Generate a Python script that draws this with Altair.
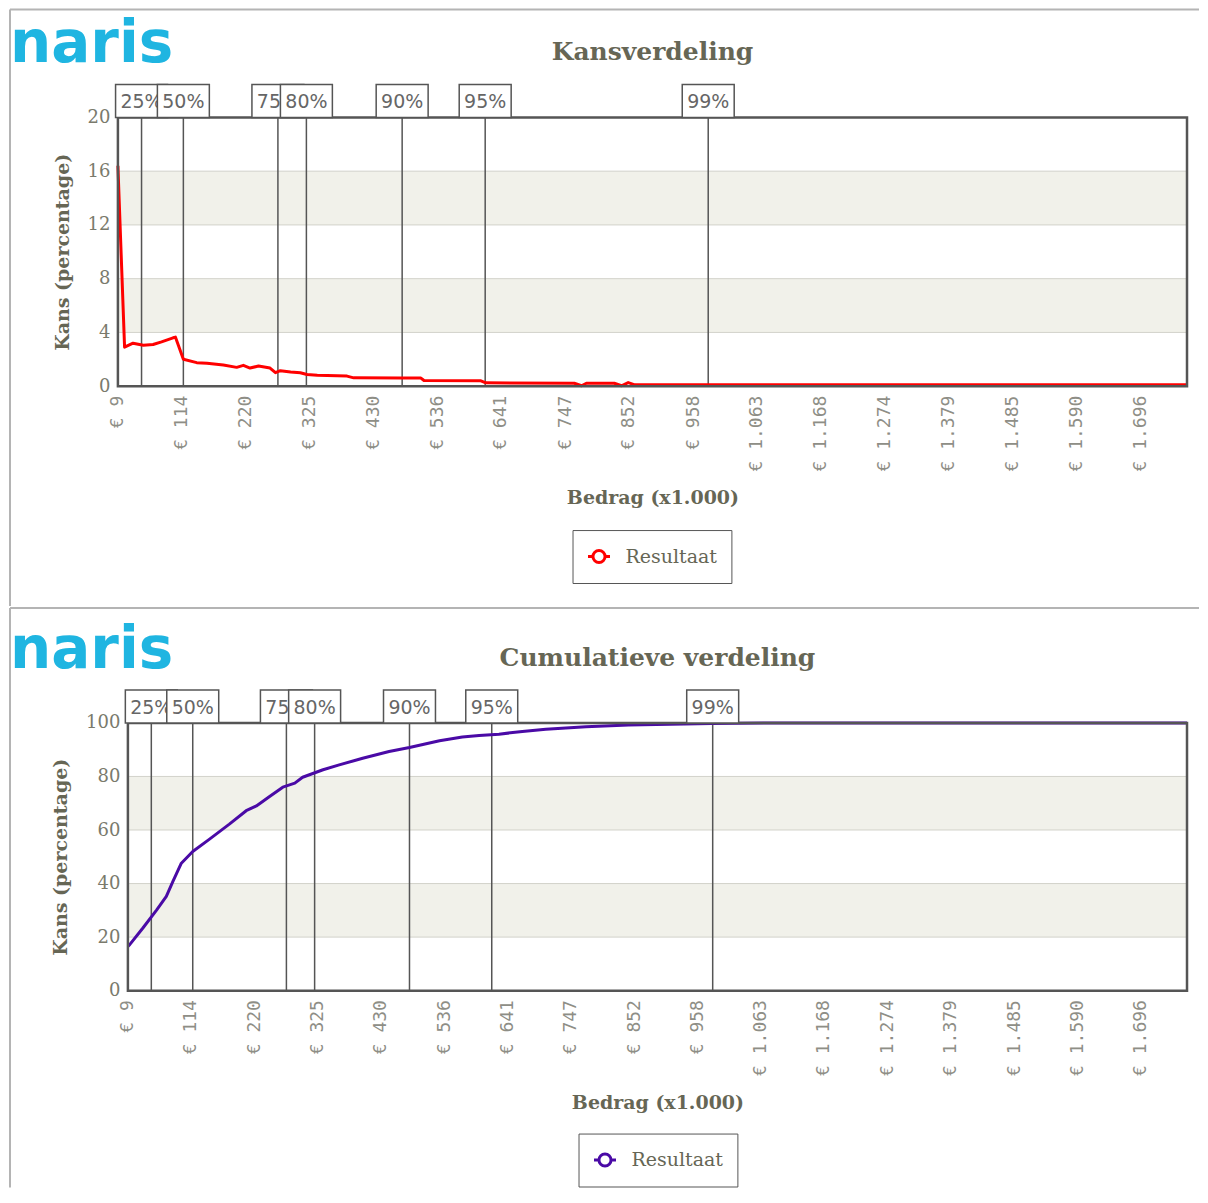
import altair as alt
import pandas as pd

# ---------------- data ----------------
x_pdf = [9, 20, 34, 51, 67, 81, 100, 104, 117, 139, 156, 183, 205, 216, 227, 241, 260, 269, 277,
         294, 310, 321, 338, 387, 398, 476, 509, 514, 608, 616, 762, 774, 782, 828, 840, 851, 862, 1773]
y_pdf = [16.4, 2.9, 3.2, 3.05, 3.1, 3.3, 3.6, 3.65, 2.0, 1.75, 1.7, 1.57, 1.4, 1.55, 1.35, 1.5, 1.35, 1.0, 1.15,
         1.05, 1.0, 0.87, 0.82, 0.75, 0.62, 0.6, 0.6, 0.42, 0.4, 0.25, 0.22, 0.03, 0.22, 0.22, 0.03, 0.27, 0.1, 0.1]

x_cdf = [9, 12, 34, 57, 73, 84, 98, 117, 145, 178, 206, 223, 245, 267, 287, 300, 334, 361, 400, 444,
         478, 528, 566, 594, 627, 666, 705, 772, 843, 981, 1100, 1773]
y_cdf = [16.5, 17.2, 23.4, 30.2, 35.2, 40.8, 47.6, 52, 56.6, 62.2, 67.2, 69, 72.5, 76, 77.5, 79.7, 82.5, 84.3,
         86.8, 89.3, 90.8, 93.3, 94.7, 95.3, 95.8, 96.8, 97.6, 98.6, 99.25, 99.8, 100, 100]

pct_labels = ["25%", "50%", "75%", "80%", "90%", "95%", "99%"]
pct_values = [48, 117, 273, 320, 478, 615, 983]

x_ticks = [9, 114, 220, 325, 430, 536, 641, 747, 852, 958, 1063, 1168, 1274, 1379, 1485, 1590, 1696]
x_domain = [9, 1773]

pdf_ticks = [0, 4, 8, 12, 16, 20]
cdf_ticks = [0, 20, 40, 60, 80, 100]
pdf_band_lo, pdf_band_hi = [4, 12], [8, 16]
cdf_band_lo, cdf_band_hi = [20, 60], [40, 80]

series_name = "Resultaat"
titles = ["Kansverdeling", "Cumulatieve verdeling"]
logo_text = "naris"
y_title = "Kans (percentage)"
x_title = "Bedrag (x1.000)"

# ---------------- style ----------------
TEXT = "#666655"
LABEL = "#7a7a6c"
XLABEL = "#8e8e86"
DARK = "#555555"
BAND = "#f1f1ea"
GRID = "#d2d2ca"
BORDER = "#b4b4b4"
LOGO = "#1fb5e1"
SYM = "M-1,0L-0.55,0M0.55,0L1,0M-0.55,0A0.55,0.55,0,1,1,0.55,0A0.55,0.55,0,1,1,-0.55,0Z"

X_AXIS = alt.Axis(
    values=x_ticks,
    labelExpr="'€ ' + replace(format(datum.value, ','), ',', '.')",
    labelAngle=270, labelFont="DejaVu Sans Mono", labelFontSize=18, labelColor=XLABEL,
    labelPadding=9, labelOverlap=False, labelFlush=False, labelBound=False,
    domain=False, ticks=False, grid=False,
    title=x_title, titleFont="DejaVu Serif", titleFontWeight="bold", titleFontSize=19,
    titleColor=TEXT, titlePadding=18)


def y_axis(yticks, offset):
    return alt.Axis(
        values=yticks, labelFont="DejaVu Serif", labelFontSize=18, labelColor=LABEL,
        labelPadding=8, domain=False, ticks=False, grid=False, offset=offset,
        title=y_title, titleFont="DejaVu Serif", titleFontWeight="bold", titleFontSize=19,
        titleColor=TEXT, titlePadding=15)


def panel(xs, ys, color, yticks, ymax, band_lo, band_hi, title, width, height,
          x_start, logo_dx, legend_xy, border):
    xsc = alt.Scale(domain=x_domain, nice=False, zero=False, range=[x_start, width])
    ysc = alt.Scale(domain=[0, ymax], nice=False, zero=True)
    yax = y_axis(yticks, -x_start)
    one = pd.DataFrame({"t": [0]})
    n_b = len(band_lo)

    band_df = pd.DataFrame({"lo": band_lo, "hi": band_hi,
                            "x0": [x_domain[0]] * n_b, "x1": [x_domain[1]] * n_b})
    bands = alt.Chart(band_df).mark_rect(color=BAND).encode(
        x=alt.X("x0:Q", scale=xsc, axis=X_AXIS), x2="x1:Q",
        y=alt.Y("lo:Q", scale=ysc, axis=yax), y2="hi:Q")
    grid_df = pd.DataFrame({"g": yticks, "x0": [x_domain[0]] * len(yticks),
                            "x1": [x_domain[1]] * len(yticks)})
    grid = alt.Chart(grid_df).mark_rule(color=GRID, strokeWidth=1).encode(
        x=alt.X("x0:Q", scale=xsc, axis=X_AXIS), x2="x1:Q",
        y=alt.Y("g:Q", scale=ysc, axis=yax))
    pct_df = pd.DataFrame({"p": pct_labels, "v": pct_values})
    rules = alt.Chart(pct_df).mark_rule(color=DARK, strokeWidth=1.5).encode(
        x=alt.X("v:Q", scale=xsc, axis=X_AXIS))

    line_df = pd.DataFrame({"x": xs, "y": ys, "s": [series_name] * len(xs)})
    line = alt.Chart(line_df).mark_line(strokeWidth=3, strokeJoin="round").encode(
        x=alt.X("x:Q", scale=xsc, axis=X_AXIS),
        y=alt.Y("y:Q", scale=ysc, axis=yax),
        color=alt.Color("s:N", scale=alt.Scale(domain=[series_name], range=[color]),
                        legend=alt.Legend(
                            title=None, orient="none", legendX=legend_xy[0], legendY=legend_xy[1],
                            direction="horizontal", strokeColor=DARK, fillColor="white", padding=14,
                            symbolType=SYM, symbolSize=484, symbolStrokeWidth=3,
                            symbolFillColor="white", labelFont="DejaVu Serif", labelFontSize=19,
                            labelColor=TEXT, labelOffset=14)),
    )

    frame_df = pd.DataFrame({"x0": [x_domain[0]], "x1": [x_domain[1]], "y0": [0], "y1": [ymax]})
    frame = alt.Chart(frame_df).mark_rect(fillOpacity=0, stroke=DARK, strokeWidth=2.5).encode(
        x=alt.X("x0:Q", scale=xsc, axis=X_AXIS), x2="x1:Q",
        y=alt.Y("y0:Q", scale=ysc, axis=yax), y2="y1:Q")

    layers = [bands, grid, rules, line, frame]
    for lab in pct_labels:
        base = alt.Chart(pct_df).transform_filter(alt.datum.p == lab)
        layers.append(base.mark_rect(fill="white", stroke=DARK, strokeWidth=1.5,
                                     xOffset=-26, x2Offset=26).encode(
            x=alt.X("v:Q", scale=xsc, axis=X_AXIS), x2="v:Q",
            y=alt.value(-33), y2=alt.value(0)))
        layers.append(base.mark_text(font="DejaVu Sans", fontSize=19, color="#666666",
                                     baseline="middle", align="center").encode(
            x=alt.X("v:Q", scale=xsc, axis=X_AXIS), y=alt.value(-15), text="p:N"))

    logo = alt.Chart(pd.DataFrame({"t": [logo_text]})).mark_text(
        font="DejaVu Sans", fontWeight="bold", fontSize=58, color=LOGO, align="left",
        baseline="alphabetic"
    ).encode(x=alt.value(logo_dx), y=alt.value(-55), text="t:N")
    ttl = alt.Chart(pd.DataFrame({"t": [title]})).mark_text(
        font="DejaVu Serif", fontWeight="bold", fontSize=25, color=TEXT, align="center",
        baseline="alphabetic"
    ).encode(x=alt.value((x_start + width) / 2), y=alt.value(-57), text="t:N")

    # page frame lines (decoration)
    bx, btop, bbottom, bright = border
    frame_h = alt.Chart(one).mark_rule(color=BORDER, strokeWidth=2).encode(
        x=alt.value(bx), x2=alt.value(bright), y=alt.value(btop))
    frame_v = alt.Chart(one).mark_rule(color=BORDER, strokeWidth=2).encode(
        x=alt.value(bx), y=alt.value(btop), y2=alt.value(bbottom))

    layers += [logo, ttl, frame_h, frame_v]
    return alt.layer(*layers).properties(width=width, height=height,
                                         view=alt.ViewBackground(stroke=None))


top = panel(x_pdf, y_pdf, "#ff0000", pdf_ticks, 20, pdf_band_lo, pdf_band_hi, titles[0],
            1070, 269, 0, -108, (455, 413), (-108, -108, 489, 1082))
bottom = panel(x_cdf, y_cdf, "#4a0aa6", cdf_ticks, 100, cdf_band_lo, cdf_band_hi, titles[1],
               1070, 268, 10, -108, (461, 411), (-108, -115, 465, 1082))

chart = alt.vconcat(top, bottom, spacing=0).resolve_scale(
    x="independent", y="independent", color="independent"
).resolve_legend(color="independent").properties(
    padding={"left": 1, "top": 0, "right": 0, "bottom": 0}
)

chart.save("out.html", embed_options={"renderer": "svg", "actions": False})
